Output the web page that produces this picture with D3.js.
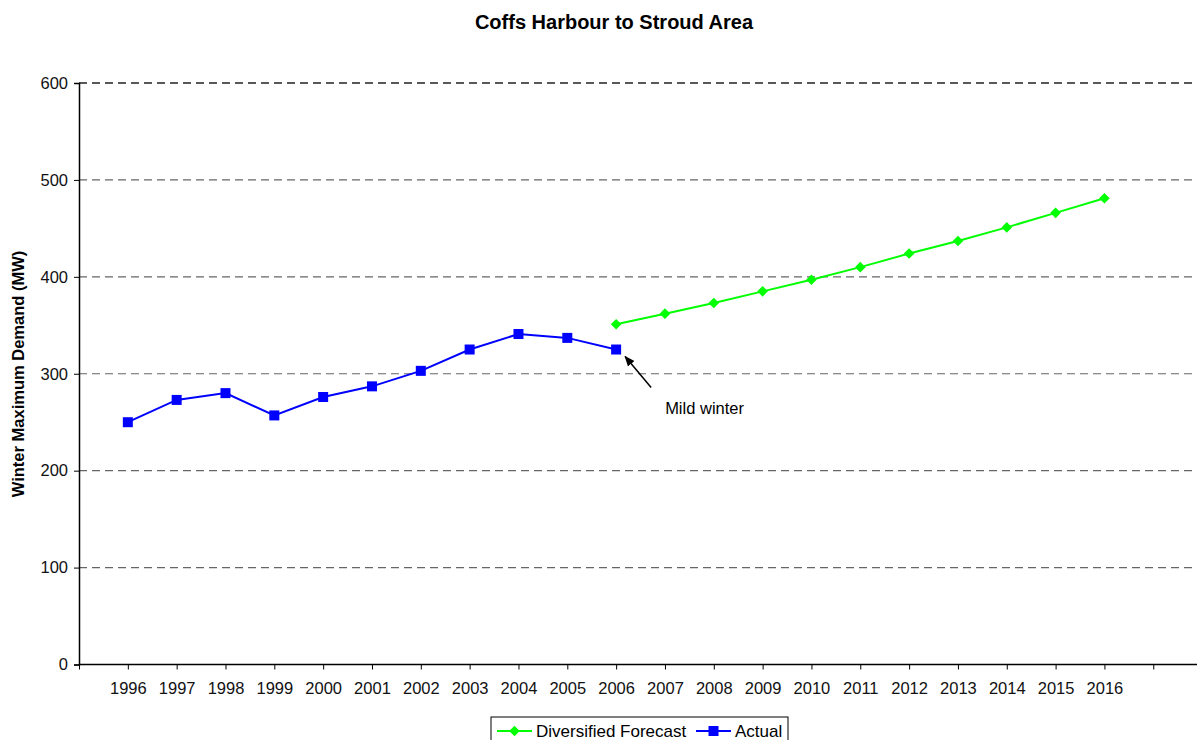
<!DOCTYPE html>
<html>
<head>
<meta charset="utf-8">
<script src="https://cdn.jsdelivr.net/npm/d3@7"></script>
<style>
  body { margin: 0; background: #fff; }
  svg { display: block; font-family: "Liberation Sans", Arial, sans-serif; }
</style>
</head>
<body>
<div id="chart"></div>
<script>
// data
var years = [1996, 1997, 1998, 1999, 2000, 2001, 2002, 2003, 2004, 2005, 2006,
             2007, 2008, 2009, 2010, 2011, 2012, 2013, 2014, 2015, 2016];
var actualYears = [1996, 1997, 1998, 1999, 2000, 2001, 2002, 2003, 2004, 2005, 2006];
var actualValues = [250, 273, 280, 257, 276, 287, 303, 325, 341, 337, 325];
var forecastYears = [2006, 2007, 2008, 2009, 2010, 2011, 2012, 2013, 2014, 2015, 2016];
var forecastValues = [351, 362, 373, 385, 397, 410, 424, 437, 451, 466, 481];
var yTicks = [0, 100, 200, 300, 400, 500, 600];
var seriesNames = ["Diversified Forecast", "Actual"];
var seriesColors = ["#00ff00", "#0000ff"];

var width = 1197, height = 740;
var plotLeft = 79, plotTop = 83, plotBottom = 664.5;
var step = 48.83;
var fontSize = "16.5px";

var svg = d3.select("#chart").append("svg")
  .attr("width", width)
  .attr("height", height);

// x: category index, 1996 sits one step right of the axis start
var x = d3.scaleLinear()
  .domain([years[0] - 1, years[0]])
  .range([plotLeft, plotLeft + step]);

var y = d3.scaleLinear()
  .domain([0, 600])
  .range([plotBottom, plotTop]);

// title
svg.append("text")
  .attr("x", 614)
  .attr("y", 29)
  .attr("text-anchor", "middle")
  .style("font-size", "20px")
  .style("font-weight", "bold")
  .text("Coffs Harbour to Stroud Area");

// gridlines
svg.append("g")
  .selectAll("line")
  .data(yTicks.filter(function(d){ return d > 0; }))
  .enter()
  .append("line")
  .attr("x1", plotLeft)
  .attr("x2", width)
  .attr("y1", function(d){ return y(d); })
  .attr("y2", function(d){ return y(d); })
  .attr("stroke", function(d){ return d == 600 ? "#222" : "#666"; })
  .attr("stroke-width", function(d){ return d == 600 ? 1.3 : 1.1; })
  .attr("stroke-dasharray", "8,5");

// y axis
var yAxis = d3.axisLeft(y)
  .tickValues(yTicks)
  .tickSize(5)
  .tickPadding(6);
var gy = svg.append("g")
  .attr("transform", "translate(" + plotLeft + ",0)")
  .call(yAxis);
gy.select(".domain").attr("stroke", "#000").attr("stroke-width", 1.5);
gy.selectAll(".tick line").attr("stroke", "#000");
gy.selectAll("text")
  .style("font-size", fontSize)
  .style("font-family", "Liberation Sans, Arial, sans-serif")
  .attr("fill", "#111");

// x axis: ticks at each category plus one slot before and after
var xTickVals = [years[0] - 1].concat(years).concat([years[years.length - 1] + 1]);
var xAxis = d3.axisBottom(x)
  .tickValues(xTickVals)
  .tickSize(5)
  .tickPadding(13)
  .tickFormat(function(d){ return years.indexOf(d) >= 0 ? d : ""; });
var gx = svg.append("g")
  .attr("transform", "translate(0," + plotBottom + ")")
  .call(xAxis);
gx.select(".domain").remove();
gx.append("line")
  .attr("x1", plotLeft)
  .attr("x2", width)
  .attr("stroke", "#000")
  .attr("stroke-width", 1.5);
gx.selectAll(".tick line").attr("stroke", "#000");
gx.selectAll("text")
  .style("font-size", fontSize)
  .style("font-family", "Liberation Sans, Arial, sans-serif")
  .attr("fill", "#111");

// y axis title
svg.append("text")
  .attr("transform", "translate(24," + 374 + ") rotate(-90)")
  .attr("text-anchor", "middle")
  .style("font-size", "16.5px")
  .style("font-weight", "bold")
  .text("Winter Maximum Demand (MW)");

var line = d3.line()
  .x(function(d){ return x(d[0]); })
  .y(function(d){ return y(d[1]); });

var forecast = d3.zip(forecastYears, forecastValues);
var actual = d3.zip(actualYears, actualValues);

svg.append("path")
  .datum(forecast)
  .attr("d", line)
  .attr("fill", "none")
  .attr("stroke", seriesColors[0])
  .attr("stroke-width", 2);

svg.append("path")
  .datum(actual)
  .attr("d", line)
  .attr("fill", "none")
  .attr("stroke", seriesColors[1])
  .attr("stroke-width", 2);

var diamond = d3.symbol().type(d3.symbolSquare).size(56);
svg.append("g")
  .selectAll("path")
  .data(forecast)
  .enter()
  .append("path")
  .attr("d", diamond)
  .attr("transform", function(d){ return "translate(" + x(d[0]) + "," + y(d[1]) + ") rotate(45)"; })
  .attr("fill", seriesColors[0]);

svg.append("g")
  .selectAll("rect")
  .data(actual)
  .enter()
  .append("rect")
  .attr("x", function(d){ return x(d[0]) - 5; })
  .attr("y", function(d){ return y(d[1]) - 5; })
  .attr("width", 10)
  .attr("height", 10)
  .attr("fill", seriesColors[1]);

// annotation
svg.append("defs").append("marker")
  .attr("id", "arrow")
  .attr("viewBox", "0 0 10 10")
  .attr("refX", 9)
  .attr("refY", 5)
  .attr("markerWidth", 7)
  .attr("markerHeight", 7)
  .attr("orient", "auto")
  .append("path")
  .attr("d", "M0,1 L10,5 L0,9 z")
  .attr("fill", "#000");

var lastX = x(actualYears[actualYears.length - 1]);
var lastY = y(actualValues[actualValues.length - 1]);
svg.append("line")
  .attr("x1", lastX + 35)
  .attr("y1", lastY + 38)
  .attr("x2", lastX + 9)
  .attr("y2", lastY + 7)
  .attr("stroke", "#000")
  .attr("stroke-width", 1.5)
  .attr("marker-end", "url(#arrow)");

svg.append("text")
  .attr("x", lastX + 49)
  .attr("y", lastY + 64)
  .style("font-size", fontSize)
  .text("Mild winter");

// legend
var legend = svg.append("g")
  .attr("transform", "translate(491,717)");
legend.append("rect")
  .attr("x", 0)
  .attr("y", 0)
  .attr("width", 297)
  .attr("height", 30)
  .attr("fill", "#fff")
  .attr("stroke", "#000")
  .attr("stroke-width", 1);

var legX = [6, 205];
legend.selectAll("line.leg")
  .data(seriesNames)
  .enter()
  .append("line")
  .attr("class", "leg")
  .attr("x1", function(d, i){ return legX[i]; })
  .attr("x2", function(d, i){ return legX[i] + 35; })
  .attr("y1", 14)
  .attr("y2", 14)
  .attr("stroke", function(d, i){ return seriesColors[i]; })
  .attr("stroke-width", 2);

legend.append("path")
  .attr("d", diamond)
  .attr("transform", "translate(" + (legX[0] + 17.5) + ",14) rotate(45)")
  .attr("fill", seriesColors[0]);
legend.append("rect")
  .attr("x", legX[1] + 12.5)
  .attr("y", 9)
  .attr("width", 10)
  .attr("height", 10)
  .attr("fill", seriesColors[1]);

legend.selectAll("text")
  .data(seriesNames)
  .enter()
  .append("text")
  .attr("x", function(d, i){ return legX[i] + 39; })
  .attr("y", 20)
  .style("font-size", "17px")
  .text(function(d){ return d; });
</script>
</body>
</html>
